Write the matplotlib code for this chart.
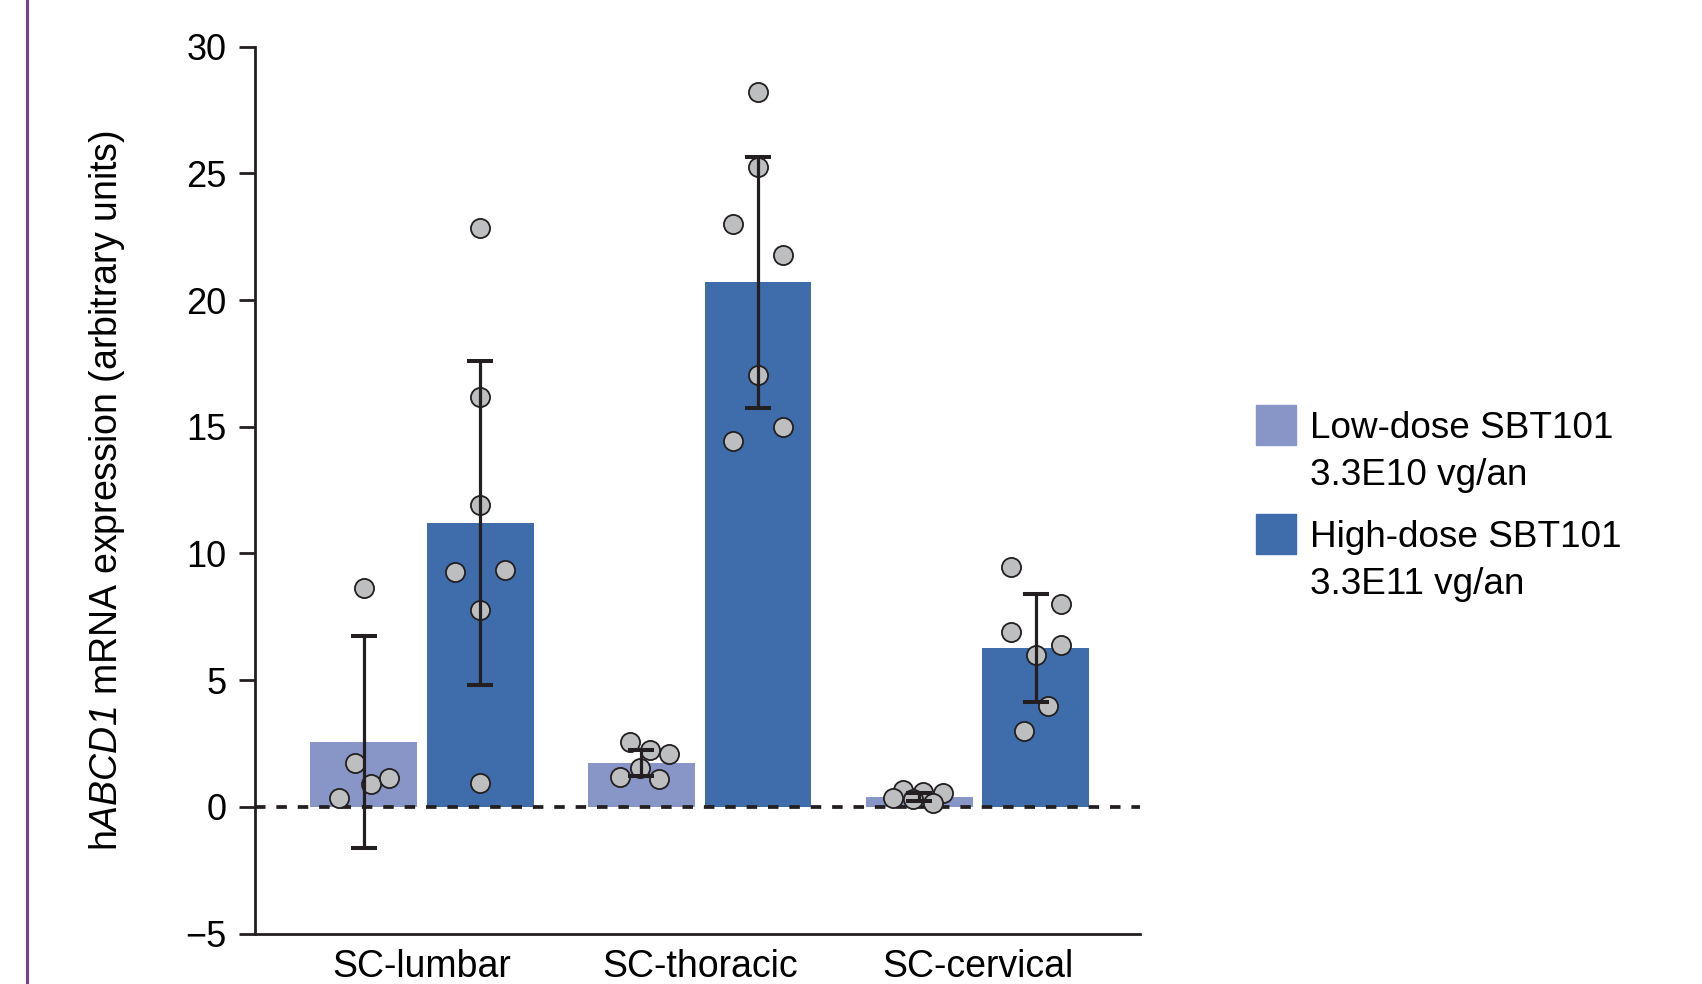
import matplotlib
matplotlib.use("Agg")
import matplotlib.pyplot as plt
from matplotlib.patches import Rectangle
from matplotlib.lines import Line2D
import numpy as np

plt.rcParams["font.family"] = ["Liberation Sans", "DejaVu Sans"]
plt.rcParams["mathtext.fontset"] = "custom"
plt.rcParams["mathtext.rm"] = "Liberation Sans"
plt.rcParams["mathtext.sf"] = "Liberation Sans:italic"

# Data
groups = ["SC-lumbar", "SC-thoracic", "SC-cervical"]
low_mean = [2.55, 1.73, 0.37]
low_sd = [4.18, 0.52, 0.16]
high_mean = [11.2, 20.7, 6.25]
high_sd = [6.4, 4.95, 2.13]

low_points = [
    [8.65, 1.72, 0.89, 1.12, 0.34],
    [2.54, 2.24, 2.07, 1.54, 1.19, 1.10],
    [0.66, 0.60, 0.53, 0.34, 0.30, 0.14],
]
low_jitter = [
    [0.0, -0.03, 0.028, 0.09, -0.09],
    [-0.042, 0.03, 0.1, -0.006, -0.078, 0.063],
    [-0.06, 0.014, 0.084, -0.096, -0.024, 0.048],
]
high_points = [
    [22.85, 16.18, 11.91, 9.28, 9.34, 7.75, 0.93],
    [28.22, 25.26, 23.0, 21.78, 17.04, 15.0, 14.45],
    [9.47, 7.99, 6.91, 6.37, 5.99, 3.99, 2.99],
]
high_jitter = [
    [0, 0, 0, -0.09, 0.09, 0, 0],
    [0, 0, -0.09, 0.09, 0, 0.09, -0.09],
    [-0.09, 0.09, -0.09, 0.09, 0, 0.044, -0.044],
]

low_color = "#8796c7"
high_color = "#3f6caa"
dark = "#231f20"
dot_color = "#bcbec0"

fig = plt.figure(figsize=(17.02, 9.84), dpi=100)
ax = fig.add_axes([255 / 1702, 1 - 933.5 / 984, (1140 - 255) / 1702, (933.5 - 46.7) / 984])

x = np.arange(len(groups))
w = 0.384
off = 0.21

ax.bar(x - off, low_mean, w, color=low_color, zorder=1)
ax.bar(x + off, high_mean, w, color=high_color, zorder=1)

ax.axhline(0, color=dark, lw=2.7, linestyle=(0, (2.8, 2.9)), zorder=2)

for i in range(len(groups)):
    ax.scatter(x[i] - off + np.array(low_jitter[i]), low_points[i], s=190,
               facecolor=dot_color, edgecolor=dark, linewidth=1.3, zorder=3)
    ax.scatter(x[i] + off + np.array(high_jitter[i]), high_points[i], s=190,
               facecolor=dot_color, edgecolor=dark, linewidth=1.3, zorder=3)

ax.errorbar(x - off, low_mean, yerr=low_sd, fmt="none", ecolor=dark,
            elinewidth=2.3, capsize=9.7, capthick=2.9, zorder=4)
ax.errorbar(x + off, high_mean, yerr=high_sd, fmt="none", ecolor=dark,
            elinewidth=2.3, capsize=9.7, capthick=2.9, zorder=4)

ax.set_xlim(-0.601, 2.585)
ax.set_ylim(-5, 30)
ax.set_yticks([-5, 0, 5, 10, 15, 20, 25, 30])
ax.set_xticks(x)
ax.set_xticklabels(groups, fontsize=27)
ax.tick_params(axis="y", labelsize=26, length=11.5, width=2, pad=9, color=dark)
ax.tick_params(axis="x", length=0, pad=11)

for s in ["top", "right"]:
    ax.spines[s].set_visible(False)
for s in ["left", "bottom"]:
    ax.spines[s].set_linewidth(2)
    ax.spines[s].set_color(dark)

ax.set_ylabel(r"h$\mathsf{ABCD1}$ mRNA expression (arbitrary units)", fontsize=27)
ax.yaxis.set_label_coords(127 / 1702, 0.5 * ((1 - 933.5 / 984) + (1 - 46.7 / 984)),
                          transform=fig.transFigure)

# Legend drawn by hand
def px(xp, yp):
    return xp / 1702, 1 - yp / 984

entries = [
    (low_color, "Low-dose SBT101", "3.3E10 vg/an", 405),
    (high_color, "High-dose SBT101", "3.3E11 vg/an", 514),
]
for col, l1, l2, ytop in entries:
    x0, y0 = px(1256, ytop + 40)
    fig.patches.append(Rectangle((x0, y0), 40 / 1702, 40 / 984, transform=fig.transFigure,
                                 color=col, figure=fig))
    tx, ty1 = px(1310, ytop + 33)
    _, ty2 = px(1310, ytop + 80)
    fig.text(tx, ty1, l1, fontsize=26.6, va="baseline", ha="left")
    fig.text(tx, ty2, l2, fontsize=26.6, va="baseline", ha="left")

# purple rule at the left edge
fig.add_artist(Line2D([27 / 1702, 27 / 1702], [0, 1], transform=fig.transFigure,
                      color="#7b3f8c", lw=2.2))

fig.savefig("out.png", dpi=100)
